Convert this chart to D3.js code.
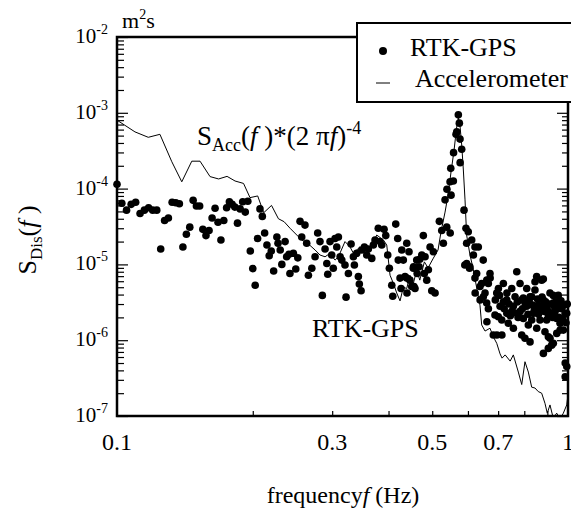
<!DOCTYPE html>
<html>
<head>
<meta charset="utf-8">
<script src="https://cdn.jsdelivr.net/npm/d3@7"></script>
<style>
  body { margin: 0; background: #fff; }
  svg { display: block; }
  text { font-family: "Liberation Serif", "Times New Roman", serif; fill: #000; }
</style>
</head>
<body>
<div id="chart"></div>
<script>
// RTK-GPS displacement spectrum, [frequency Hz, S_Dis m^2 s]
const gpsPoints = [
  [0.1000,1.14e-4],[0.1025,6.4e-5],[0.1050,5.2e-5],[0.1075,6.2e-5],[0.1100,6.6e-5],[0.1125,4.7e-5],
  [0.1150,5.2e-5],[0.1175,5.6e-5],[0.1200,5.2e-5],[0.1225,5.2e-5],[0.1250,1.6e-5],[0.1275,3.8e-5],
  [0.1300,4.1e-5],[0.1325,6.6e-5],[0.1350,6.5e-5],[0.1375,6.3e-5],[0.1400,1.7e-5],[0.1425,2.5e-5],
  [0.1450,3.1e-5],[0.1475,7.0e-5],[0.1500,5.9e-5],[0.1525,5.9e-5],[0.1550,2.9e-5],[0.1575,2.4e-5],
  [0.1600,2.8e-5],[0.1625,4.1e-5],[0.1650,5.5e-5],[0.1675,3.6e-5],[0.1700,2.1e-5],[0.1725,3.8e-5],
  [0.1750,5.6e-5],[0.1775,6.7e-5],[0.1800,6.2e-5],[0.1825,5.7e-5],[0.1850,3.5e-5],[0.1875,5.4e-5],
  [0.1900,6.7e-5],[0.1925,4.9e-5],[0.1950,6.8e-5],[0.1975,1.5e-5],[0.2000,8.8e-6],[0.2025,5.3e-6],
  [0.2050,2.2e-5],[0.2075,5.4e-5],[0.2100,4.3e-5],[0.2125,2.6e-5],[0.2150,1.8e-5],[0.2175,1.3e-5],
  [0.2198,1.5e-5],[0.2225,8.2e-6],[0.2262,2.3e-5],[0.2275,1.9e-5],[0.2301,1.55e-5],[0.2320,1.0e-5],
  [0.2359,2.0e-5],[0.2378,1.26e-5],[0.2406,1.36e-5],[0.2418,7.6e-6],[0.2461,1.4e-5],[0.2491,8.7e-6],
  [0.2517,1.22e-5],[0.2546,3.7e-5],[0.2568,2.3e-5],[0.2611,3.3e-5],[0.2634,1.9e-5],[0.2657,7.2e-6],
  [0.2704,8.9e-6],[0.2749,1.26e-5],[0.2786,2.6e-5],[0.2819,2.0e-5],[0.2853,3.9e-6],[0.2893,1.6e-5],
  [0.2919,1.03e-5],[0.2933,7.4e-6],[0.2967,2.0e-5],[0.2993,1.33e-5],[0.3017,8.9e-6],[0.3044,2.2e-5],
  [0.3071,1.7e-5],[0.3097,2.3e-5],[0.3124,1.26e-5],[0.3151,1.14e-5],[0.3203,9.8e-6],[0.3220,3.7e-6],
  [0.3259,7.6e-6],[0.3304,1.86e-5],[0.3343,1.26e-5],[0.3360,9.8e-6],[0.3400,1.4e-5],[0.3429,6.9e-6],
  [0.3446,5.5e-6],[0.3477,4.5e-6],[0.3489,1.55e-5],[0.3536,1.7e-5],[0.3579,1.33e-5],[0.3608,1.6e-5],
  [0.3672,1.2e-5],[0.3702,1.8e-5],[0.3734,2.1e-5],[0.3796,3.0e-5],[0.3830,2.0e-5],[0.3864,1.8e-5],
  [0.3910,2.9e-5],[0.3944,2.4e-5],[0.3984,1.33e-5],[0.4017,8.9e-6],[0.4067,5.3e-6],[0.4087,3.8e-6],
  [0.4150,3.4e-5],[0.4192,2.2e-5],[0.4204,1.14e-5],[0.4242,6.6e-6],[0.4264,4.8e-6],[0.4280,1.55e-5],
  [0.4314,1.14e-5],[0.4352,6.9e-6],[0.4389,6.6e-6],[0.4390,1.9e-5],[0.4395,4.2e-6],[0.4441,1.47e-5],
  [0.4462,6.2e-6],[0.4503,5.1e-6],[0.4540,8.9e-6],[0.4545,9.3e-6],[0.4555,5.1e-6],[0.4579,4.8e-6],
  [0.4619,1.14e-5],[0.4630,7.6e-6],[0.4675,9.3e-6],[0.4692,1.17e-5],[0.4740,1.33e-5],[0.4778,2.4e-5],
  [0.4802,7.6e-6],[0.4820,1.26e-5],[0.4862,6.2e-6],[0.4902,8.5e-6],[0.4945,1.7e-5],[0.4988,4.5e-6],
  [0.5029,1.47e-5],[0.5073,4.2e-6],[0.5185,3.7e-5],[0.5249,2.8e-5],[0.5292,1.9e-5],[0.5338,7.1e-5],
  [0.5384,3.1e-5],[0.5390,9.8e-5],[0.5476,1.23e-4],[0.5480,2.6e-5],[0.5496,1.85e-4],[0.5504,8.2e-5],
  [0.5569,1.26e-4],[0.5575,2.98e-4],[0.5646,5.2e-4],[0.5667,5.6e-4],[0.5713,9.4e-4],[0.5742,7.3e-4],
  [0.5762,4.5e-4],[0.5765,2.2e-4],[0.5812,3.3e-4],[0.5881,5.2e-5],[0.5905,9.8e-6],[0.5940,3.0e-5],
  [0.5960,1.9e-5],[0.5962,1.03e-5],[0.6009,2.7e-5],[0.6050,8.9e-6],[0.6060,9.3e-6],[0.6116,2.1e-5],
  [0.6170,1.33e-5],[0.6219,6.6e-6],[0.6220,1.7e-5],[0.6225,4.2e-6],[0.6273,7.6e-6],[0.6326,1.7e-5],
  [0.6380,5.1e-6],[0.6385,3.4e-6],[0.6436,5.6e-6],[0.6487,1.14e-5],[0.6490,3.75e-6],[0.6547,4.2e-6],
  [0.6603,3.1e-6],[0.6605,6.2e-6],[0.6610,1.75e-6],[0.6658,5.6e-6],[0.6660,2.6e-6],[0.6715,7.6e-6],
  [0.6720,6.6e-6],[0.6829,1.17e-6],[0.6888,2.15e-6],[0.6900,3.4e-6],[0.6950,4.2e-6],[0.6955,1.17e-6],
  [0.7007,2.04e-6],[0.7010,4.8e-6],[0.7050,3.9e-6],[0.7069,2.8e-6],[0.7131,1.85e-6],[0.7135,1.17e-6],
  [0.7189,5.6e-6],[0.7190,3.2e-6],[0.7220,2.6e-6],[0.7315,3.4e-6],[0.7318,2.26e-6],[0.7320,4.2e-6],
  [0.7374,1.67e-6],[0.7400,3.0e-6],[0.7450,2.1e-6],[0.7504,4.8e-6],[0.7506,2.4e-6],[0.7565,2.8e-6],
  [0.7567,1.44e-6],[0.7600,2.3e-6],[0.7631,3.75e-6],[0.7698,8.0e-6],[0.7720,3.2e-6],[0.7750,2.0e-6],
  [0.7828,5.6e-6],[0.7830,2.4e-6],[0.7896,1.17e-6],[0.7898,3.4e-6],[0.7920,2.6e-6],[0.7960,3.6e-6],
  [0.7962,1.94e-6],[0.8028,1.06e-6],[0.8040,3.0e-6],[0.8099,2.8e-6],[0.8100,4.8e-6],[0.8150,2.2e-6],
  [0.8167,1.59e-6],[0.8200,3.3e-6],[0.8238,9.5e-7],[0.8240,3.75e-6],[0.8308,3.75e-6],[0.8310,1.85e-6],
  [0.8350,2.9e-6],[0.8375,2.26e-6],[0.8420,2.5e-6],[0.8448,4.6e-6],[0.8450,5.9e-6],[0.8522,6.9e-6],
  [0.8524,1.44e-6],[0.8560,3.5e-6],[0.8591,2.9e-6],[0.8600,2.2e-6],[0.8667,1.85e-6],[0.8700,2.6e-6],
  [0.8742,6.2e-6],[0.8760,3.7e-6],[0.8813,3.4e-6],[0.8815,2.8e-6],[0.8817,6.4e-6],[0.8819,6.7e-7],
  [0.8860,2.4e-6],[0.8891,1.29e-6],[0.8920,3.2e-6],[0.8967,1.85e-6],[0.8990,2.6e-6],[0.9042,2.15e-6],
  [0.9044,7.8e-7],[0.9046,1.11e-6],[0.9080,3.0e-6],[0.9121,4.2e-6],[0.9123,1.06e-6],[0.9160,2.3e-6],
  [0.9200,8.6e-7],[0.9240,2.0e-6],[0.9274,3.1e-6],[0.9276,3.9e-6],[0.9278,9.1e-7],[0.9320,2.8e-6],
  [0.9357,2.4e-6],[0.9400,3.2e-6],[0.9439,1.94e-6],[0.9441,1.23e-6],[0.9480,2.6e-6],[0.9517,3.9e-6],
  [0.9550,2.0e-6],[0.9600,2.8e-6],[0.9602,1.67e-6],[0.9604,1.36e-6],[0.9650,3.3e-6],[0.9683,2.6e-6],
  [0.9720,1.9e-6],[0.9765,1.36e-6],[0.9800,2.9e-6],[0.9855,2.26e-6],[0.9857,3.3e-7],[0.9859,5.0e-7],
  [0.9900,1.7e-6],[0.9935,2.26e-6],[0.9937,4.5e-7],[0.9960,3.0e-6]
];

// accelerometer spectrum converted to displacement, S_Acc(f)*(2 pi f)^-4
const accPoints = [
  [0.1000,8.0e-4],[0.1096,5.6e-4],[0.1173,4.75e-4],[0.1245,5.2e-4],[0.1323,2.26e-4],[0.1392,1.23e-4],
  [0.1465,2.3e-4],[0.1528,2.3e-4],[0.1608,1.44e-4],[0.1680,1.34e-4],[0.1754,1.45e-4],[0.1827,1.26e-4],
  [0.1908,1.17e-4],[0.1972,7.6e-5],[0.2051,8.0e-5],[0.2115,4.8e-5],[0.2201,6.0e-5],[0.2280,4.0e-5],
  [0.2347,3.66e-5],[0.2419,3.0e-5],[0.2504,2.44e-5],[0.2568,2.1e-5],[0.2657,1.86e-5],[0.2749,1.55e-5],
  [0.2819,1.33e-5],[0.2893,1.26e-5],[0.2967,1.4e-5],[0.3044,1.14e-5],[0.3097,1.26e-5],[0.3203,2.0e-5],
  [0.3287,1.7e-5],[0.3343,1.4e-5],[0.3455,1.7e-5],[0.3543,1.47e-5],[0.3672,1.8e-5],[0.3766,2.44e-5],
  [0.3896,2.1e-5],[0.3964,1.8e-5],[0.4031,7.2e-6],[0.4101,5.6e-6],[0.4171,4.2e-6],[0.4242,3.3e-6],
  [0.4314,5.0e-6],[0.4389,4.8e-6],[0.4462,7.2e-6],[0.4540,5.6e-6],[0.4619,8.4e-6],[0.4692,6.2e-6],
  [0.4803,1.08e-5],[0.4895,9.0e-6],[0.5029,1.21e-5],[0.5150,1.55e-5],[0.5230,2.7e-5],[0.5338,4.9e-5],
  [0.5420,8.2e-5],[0.5504,1.66e-4],[0.5589,3.2e-4],[0.5661,6.3e-4],[0.5713,8.5e-4],[0.5762,6.7e-4],
  [0.5812,3.76e-4],[0.5861,1.76e-4],[0.5911,7.1e-5],[0.5960,2.44e-5],[0.6063,1.33e-5],[0.6156,9.0e-6],
  [0.6274,4.9e-6],[0.6380,2.9e-6],[0.6436,1.59e-6],[0.6547,1.32e-6],[0.6715,1.44e-6],[0.6829,1.11e-6],
  [0.6950,9.1e-7],[0.7069,6.6e-7],[0.7142,5.8e-7],[0.7255,6.4e-7],[0.7443,5.3e-7],[0.7565,6.4e-7],
  [0.7760,3.8e-7],[0.7896,2.6e-7],[0.8028,5.2e-7],[0.8167,3.8e-7],[0.8308,2.4e-7],[0.8448,2.34e-7],
  [0.8591,2.1e-7],[0.8742,2.0e-7],[0.8891,1.47e-7],[0.8995,1.09e-7],[0.9121,1.4e-7],[0.9274,9.4e-8],
  [0.9439,1.09e-7],[0.9600,9.1e-8],[0.9765,1.09e-7],[0.9935,1.4e-7],[1.0000,1.9e-7]
];

const yTickExps = [-2, -3, -4, -5, -6, -7];
const xTickLabels = [0.1, 0.3, 0.5, 0.7, 1];
const xMinorTicks = [0.2, 0.3, 0.4, 0.5, 0.6, 0.7, 0.8, 0.9];

const width = 571, height = 511;
const plotL = 117, plotR = 568, plotT = 37, plotB = 416;

const svg = d3.select("#chart").append("svg")
  .attr("width", width).attr("height", height);

const x = d3.scaleLog().domain([0.1, 1]).range([plotL, plotR]);
const y = d3.scaleLog().domain([1e-7, 1e-2]).range([plotB, plotT]);

// tick values for log axis
const yMajor = yTickExps.map(e => Math.pow(10, e));
const yMinor = [];
yTickExps.slice(0, -1).forEach(e => {
  for (let k = 2; k <= 9; k++) yMinor.push(k * Math.pow(10, e - 1));
});

function tickAxis(axis, values, size) {
  return axis.tickValues(values).tickSize(size).tickFormat("");
}

function styleAxis(g) {
  g.select(".domain").remove();
  g.selectAll(".tick line").attr("stroke", "#000").attr("stroke-width", 1.2);
}

// left axis, ticks inside
svg.append("g").attr("transform", `translate(${plotL},0)`)
  .call(tickAxis(d3.axisRight(y), yMajor, 11)).call(styleAxis);
svg.append("g").attr("transform", `translate(${plotL},0)`)
  .call(tickAxis(d3.axisRight(y), yMinor, 7)).call(styleAxis);
// right axis, ticks inside
svg.append("g").attr("transform", `translate(${plotR},0)`)
  .call(tickAxis(d3.axisLeft(y), yMajor, 11)).call(styleAxis);
svg.append("g").attr("transform", `translate(${plotR},0)`)
  .call(tickAxis(d3.axisLeft(y), yMinor, 6)).call(styleAxis);
// bottom axis, ticks inside
svg.append("g").attr("transform", `translate(0,${plotB})`)
  .call(tickAxis(d3.axisTop(x), xMinorTicks, 5)).call(styleAxis);

// frame
svg.append("rect")
  .attr("x", plotL).attr("y", plotT)
  .attr("width", plotR - plotL).attr("height", plotB - plotT)
  .attr("fill", "none").attr("stroke", "#000").attr("stroke-width", 2.5);

// clip for the accelerometer line
svg.append("clipPath").attr("id", "plotClip")
  .append("rect").attr("x", plotL).attr("y", plotT)
  .attr("width", plotR - plotL).attr("height", plotB - plotT);

const line = d3.line().x(d => x(d[0])).y(d => y(d[1]));

svg.append("path")
  .datum(accPoints)
  .attr("clip-path", "url(#plotClip)")
  .attr("d", line)
  .attr("fill", "none")
  .attr("stroke", "#000")
  .attr("stroke-width", 1);

svg.append("g").selectAll("circle")
  .data(gpsPoints)
  .enter().append("circle")
  .attr("cx", d => x(d[0]))
  .attr("cy", d => y(d[1]))
  .attr("r", 3.8)
  .attr("fill", "#000");

// y tick labels 10^n
yTickExps.forEach(e => {
  const t = svg.append("text")
    .attr("x", 108).attr("y", y(Math.pow(10, e)) + 6)
    .attr("text-anchor", "end")
    .style("font-size", "21px");
  t.append("tspan").text("10");
  t.append("tspan").attr("dy", -9).style("font-size", "14px").text(String(e));
});

// x tick labels
xTickLabels.forEach(v => {
  svg.append("text")
    .attr("x", x(v)).attr("y", 450)
    .attr("text-anchor", "middle")
    .style("font-size", "24px")
    .text(String(v));
});

// unit
const unit = svg.append("text").attr("x", 122).attr("y", 28).style("font-size", "22px");
unit.append("tspan").text("m");
unit.append("tspan").attr("dy", -9).style("font-size", "14px").text("2");
unit.append("tspan").attr("dy", 9).text("s");

// axis titles
const xt = svg.append("text").attr("x", 343).attr("y", 503)
  .attr("text-anchor", "middle").style("font-size", "24px");
xt.append("tspan").text("frequency");
xt.append("tspan").style("font-style", "italic").text("f");
xt.append("tspan").text(" (Hz)");

const yt = svg.append("text")
  .attr("transform", "translate(36,240) rotate(-90)")
  .attr("text-anchor", "middle").style("font-size", "26px");
yt.append("tspan").text("S");
yt.append("tspan").attr("dy", 6).style("font-size", "17px").text("Dis");
yt.append("tspan").attr("dy", -6).text("(");
yt.append("tspan").style("font-style", "italic").text("f");
yt.append("tspan").text(" )");

// annotations
const ann = svg.append("text").attr("x", 197).attr("y", 145).style("font-size", "27px");
ann.append("tspan").text("S");
ann.append("tspan").attr("dy", 6).style("font-size", "18px").text("Acc");
ann.append("tspan").attr("dy", -6).text("(");
ann.append("tspan").style("font-style", "italic").text("f");
ann.append("tspan").text(" )*(2 π");
ann.append("tspan").style("font-style", "italic").text("f");
ann.append("tspan").text(")");
ann.append("tspan").attr("dy", -11).style("font-size", "18px").text("-4");

svg.append("text").attr("x", 312).attr("y", 337)
  .style("font-size", "26px").text("RTK-GPS");

// legend
const lg = svg.append("g");
lg.append("rect")
  .attr("x", 357).attr("y", 23).attr("width", 240).attr("height", 79)
  .attr("fill", "#fff").attr("stroke", "#000").attr("stroke-width", 2);
lg.append("circle").attr("cx", 383).attr("cy", 51).attr("r", 4).attr("fill", "#000");
lg.append("text").attr("x", 410).attr("y", 56).style("font-size", "26px").text("RTK-GPS");
lg.append("line").attr("x1", 376).attr("x2", 390).attr("y1", 83).attr("y2", 83)
  .attr("stroke", "#000").attr("stroke-width", 1);
lg.append("text").attr("x", 415).attr("y", 87).style("font-size", "26px").text("Accelerometer");
</script>
</body>
</html>
